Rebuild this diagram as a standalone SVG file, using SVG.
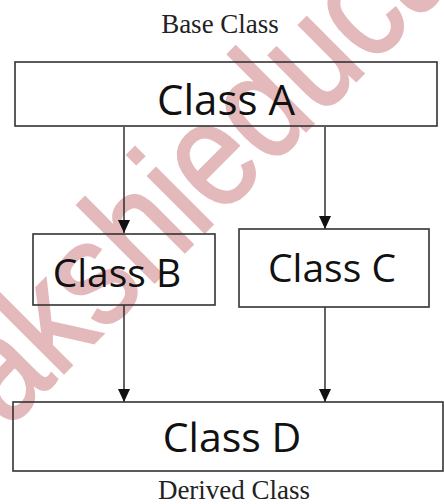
<svg xmlns="http://www.w3.org/2000/svg" width="444" height="504" viewBox="0 0 444 504">
  <style>
    .box { fill: none; stroke: #333; stroke-width: 1.6; }
    .cls { font-family: "Open Sans", "Liberation Sans", sans-serif; fill: #111; text-anchor: middle; }
    .cap { font-family: "Liberation Serif", "DejaVu Serif", serif; font-size: 27px; fill: #222; text-anchor: middle; }
    .wire { stroke: #222; stroke-width: 1.4; fill: none; marker-end: url(#tip); }
    .mark { font-family: "Liberation Sans", Arial, sans-serif; font-size: 128px; fill: #e3b9bc; stroke: #e3b9bc; stroke-width: 2; }
  </style>
  <defs>
    <marker id="tip" viewBox="0 0 13 12" refX="13" refY="6" markerWidth="13" markerHeight="12" markerUnits="userSpaceOnUse" orient="auto">
      <path d="M0,0 L13,6 L0,12 Z" fill="#111"/>
    </marker>
  </defs>
  <rect width="444" height="504" fill="#fff"/>

  <!-- background watermark -->
  <text class="mark" transform="translate(-53 490) rotate(-45) scale(1 1.18)">Sakshieducation</text>

  <text class="cap" x="220" y="33">Base Class</text>
  <text class="cap" x="234" y="499">Derived Class</text>

  <g id="connectors">
    <line class="wire" x1="124" y1="127" x2="124" y2="233"/>
    <line class="wire" x1="325" y1="127" x2="325" y2="229"/>
    <line class="wire" x1="124" y1="305" x2="124" y2="402"/>
    <line class="wire" x1="325" y1="307" x2="325" y2="402"/>
  </g>

  <g id="classA">
    <rect class="box" x="15" y="62" width="422" height="64"/>
    <text class="cls" x="226" y="115" font-size="42">Class A</text>
  </g>
  <g id="classB">
    <rect class="box" x="33" y="234" width="182" height="71"/>
    <text class="cls" x="117" y="287" font-size="39">Class B</text>
  </g>
  <g id="classC">
    <rect class="box" x="239" y="229" width="190" height="78"/>
    <text class="cls" x="332" y="282" font-size="39">Class C</text>
  </g>
  <g id="classD">
    <rect class="box" x="13" y="402" width="430" height="69"/>
    <text class="cls" x="232" y="452" font-size="41">Class D</text>
  </g>
</svg>
